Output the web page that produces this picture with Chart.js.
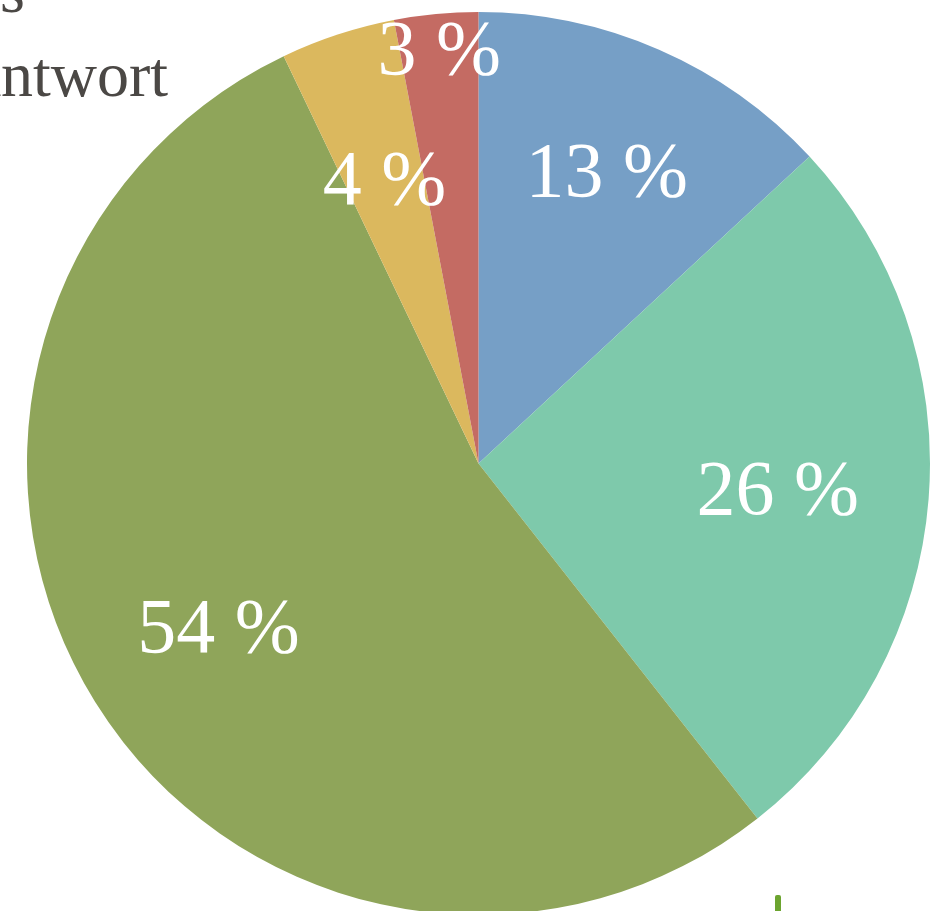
<!DOCTYPE html>
<html>
<head>
<meta charset="utf-8">
<script src="https://cdn.jsdelivr.net/npm/chart.js@4/dist/chart.umd.min.js"></script>
<style>
  html, body { margin: 0; padding: 0; background: #fff; overflow: hidden; }
  #wrap { position: absolute; left: 0; top: 0; width: 944px; height: 930px; }
</style>
</head>
<body>
<div id="wrap"><canvas id="myChart" width="944" height="930"></canvas></div>
<script>
// Daten
var categories = ["Ja", "Eher ja", "Nein", "Teils", "Keine Antwort"];
var shares = [13.1, 26.3, 53.5, 4.1, 3.0];
var colors = ["#769fc6", "#7ec9ab", "#8fa55a", "#dbb85e", "#c46b63"];
// Abstand der Beschriftung vom Mittelpunkt (Anteil am Radius)
var labelDist = [0.71, 0.665, 0.678, 0.667, 0.925];

var serif = "'Liberation Serif', 'DejaVu Serif', serif";

// Prozentbeschriftung in den Segmenten
var pctLabels = {
  id: "pctLabels",
  afterDatasetsDraw: function(chart) {
    var ctx = chart.ctx;
    var meta = chart.getDatasetMeta(0);
    var fs = 78;
    ctx.save();
    ctx.fillStyle = "#ffffff";
    ctx.font = fs + "px " + serif;
    ctx.textAlign = "center";
    ctx.textBaseline = "alphabetic";
    meta.data.forEach(function(arc, i) {
      var p = arc.getProps(["x", "y", "startAngle", "endAngle", "outerRadius"], true);
      var mid = (p.startAngle + p.endAngle) / 2;
      var r = p.outerRadius * labelDist[i];
      var x = p.x + Math.cos(mid) * r;
      var y = p.y + Math.sin(mid) * r;
      ctx.fillText(Math.round(shares[i]) + " %", x, y + fs * 0.34);
    });
    ctx.restore();
  }
};

// abgeschnittene Legende oben links + kleiner Marker unten
var legendBits = {
  id: "legendBits",
  afterDraw: function(chart) {
    var ctx = chart.ctx;
    ctx.save();
    ctx.fillStyle = "#4b4845";
    ctx.font = "64px " + serif;
    ctx.textAlign = "right";
    ctx.textBaseline = "alphabetic";
    ctx.fillText(categories[3], 25, 12);
    ctx.fillText(categories[4], 168, 96);
    ctx.fillStyle = "#6ca42f";
    ctx.beginPath();
    ctx.roundRect(775, 895, 6, 30, 2);
    ctx.fill();
    ctx.restore();
  }
};

var ctx = document.getElementById("myChart").getContext("2d");
var myChart = new Chart(ctx, {
  type: "pie",
  data: {
    labels: categories,
    datasets: [{
      data: shares,
      backgroundColor: colors,
      borderWidth: 0
    }]
  },
  options: {
    responsive: false,
    animation: false,
    layout: { padding: { left: 27, top: 12, right: 14, bottom: 15 } },
    plugins: {
      legend: { display: false },
      tooltip: { enabled: false }
    }
  },
  plugins: [pctLabels, legendBits]
});
</script>
</body>
</html>
